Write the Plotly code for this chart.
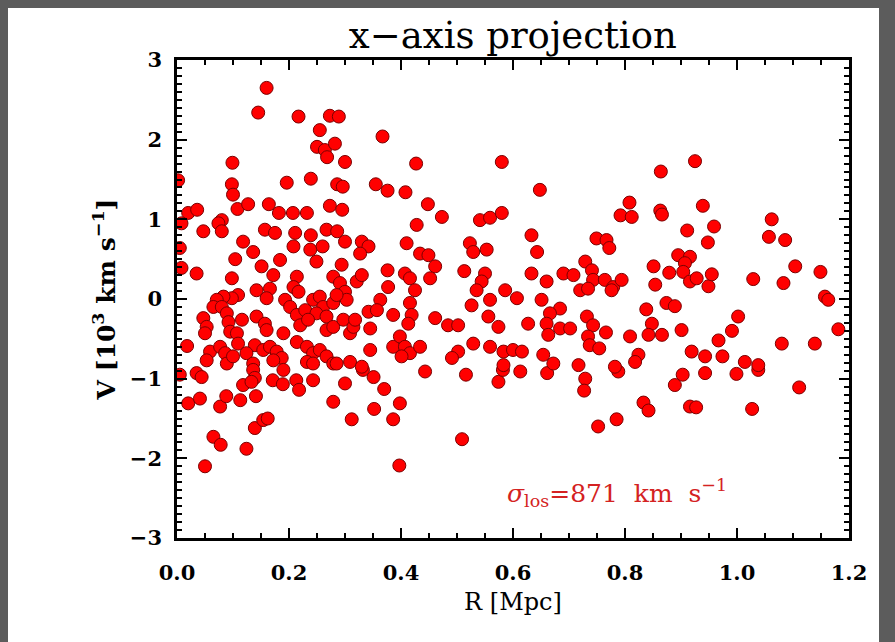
import plotly.graph_objects as go

R = [0.160,0.145,0.217,0.273,0.289,0.255,0.250,0.264,0.268,0.282,0.300,0.099,0.002,0.098,0.100,0.196,0.239,0.286,0.296,
     0.020,0.036,0.080,0.108,0.127,0.164,0.182,0.207,0.232,0.273,0.295,
     0.367,0.427,0.580,0.355,0.376,0.408,0.648,0.448,0.473,0.541,0.559,0.580,
     0.925,0.864,0.808,0.792,0.812,0.863,0.866,0.939,1.062,
     0.008,0.047,0.074,0.080,0.157,0.175,0.211,0.239,0.267,0.286,0.300,0.005,0.118,0.136,0.208,0.238,0.260,
     0.104,0.184,0.249,0.294,0.008,0.035,0.151,0.172,0.098,0.214,0.208,0.217,0.279,0.291,0.300,0.303,
     0.142,0.166,0.160,0.109,0.098,0.083,0.071,0.065,0.080,0.089,0.193,0.202,0.214,0.229,0.243,0.255,
     0.261,0.249,0.267,0.279,0.285,0.047,0.053,0.050,0.116,0.142,0.157,0.160,0.092,0.095,0.107,0.109,
     0.190,0.220,0.234,0.267,0.279,0.297,0.309,0.315,0.018,0.059,0.077,0.086,0.139,0.154,0.166,0.178,
     0.187,0.214,0.232,0.243,0.255,0.267,0.279,0.053,0.089,0.100,0.124,0.136,0.172,0.190,0.232,0.243,
     0.285,0.309,0.035,0.005,0.136,0.139,
     0.044,0.020,0.041,0.077,0.088,0.065,0.078,0.050,0.118,0.133,0.113,0.141,0.124,0.139,0.154,0.162,
     0.171,0.189,0.213,0.218,0.243,0.279,0.300,0.312,
     0.332,0.351,0.370,0.352,0.386,0.398,0.397,0.443,0.516,0.509,0.574,0.582,0.613,0.661,0.729,0.727,0.752,
     0.788,0.903,0.889,0.943,0.999,1.038,1.111,0.785,0.833,0.842,0.916,0.927,1.027,
     0.428,0.633,0.643,0.749,0.330,0.342,0.327,0.410,0.434,0.449,0.461,0.452,0.523,0.529,0.553,
     0.376,0.407,0.416,0.513,0.550,0.544,0.535,0.633,0.660,0.690,0.708,0.729,0.741,0.743,0.720,0.734,
     0.321,0.330,0.377,0.425,0.586,0.607,0.363,0.342,0.357,0.416,0.419,0.413,0.461,0.526,0.559,0.651,
     0.684,0.666,0.318,0.345,0.386,0.484,0.502,0.556,0.574,0.627,0.660,0.663,0.684,0.702,0.732,0.743,
     0.734,0.737,0.345,0.386,0.398,0.407,0.416,0.401,0.434,0.529,0.502,0.491,0.559,0.583,0.600,0.616,
     0.654,0.672,0.717,0.330,0.583,
     0.767,0.772,0.911,0.959,0.948,1.057,1.086,0.895,0.916,0.907,0.851,0.879,0.904,0.916,0.928,0.949,
     0.955,0.854,0.764,0.779,0.794,0.776,1.029,1.104,1.083,1.149,1.157,1.163,0.838,0.874,0.889,0.848,
     0.842,0.866,0.766,0.809,0.901,1.002,0.991,0.967,1.181,1.080,1.139,0.754,0.824,0.818,0.919,0.943,
     0.974,1.014,1.038,0.782]

V = [2.65,2.34,2.29,2.30,2.29,2.12,1.91,1.87,1.78,1.95,1.72,1.71,1.49,1.44,1.31,1.46,1.51,1.44,1.41,
     1.08,1.12,0.99,1.13,1.19,1.19,1.08,1.08,1.08,1.17,1.12,
     2.04,1.70,1.72,1.44,1.36,1.34,1.37,1.19,1.03,0.99,1.02,1.08,
     1.73,1.60,1.21,1.05,1.03,1.11,1.06,1.17,1.00,
     0.95,0.85,0.95,0.85,0.87,0.83,0.83,0.80,0.87,0.85,0.72,0.64,0.72,0.59,0.66,0.62,0.66,
     0.50,0.49,0.47,0.43,0.39,0.32,0.41,0.30,0.26,0.28,0.15,0.09,0.28,0.20,0.09,-0.01,
     0.11,0.13,0.01,0.05,0.01,0.03,-0.01,-0.10,-0.10,-0.18,-0.01,-0.10,-0.20,-0.14,-0.01,0.03,
     -0.10,-0.18,-0.22,-0.05,0.05,-0.24,-0.35,-0.43,-0.26,-0.22,-0.31,-0.39,-0.29,-0.41,-0.43,-0.56,
     -0.43,-0.33,-0.26,-0.39,-0.35,-0.26,-0.43,-0.35,-0.59,-0.66,-0.60,-0.68,-0.58,-0.64,-0.60,-0.66,
     -0.74,-0.54,-0.60,-0.68,-0.64,-0.72,-0.81,-0.77,-0.81,-0.72,-0.68,-0.81,-0.77,-0.89,-0.79,-0.81,
     -0.81,-0.79,-0.93,-0.95,-0.89,-0.99,
     -0.98,-1.31,-1.25,-1.35,-1.22,-1.73,-1.83,-2.10,-1.08,-1.04,-1.27,-1.22,-1.88,-1.62,-1.52,-1.50,
     -1.02,-1.07,-1.02,-1.14,-1.02,-1.29,-1.06,-1.51,
     -0.89,-0.98,-1.13,-1.38,-1.51,-1.31,-2.09,-0.91,-0.95,-1.76,-1.04,-0.89,-0.91,-0.93,-1.00,-1.15,-1.60,
     -0.91,-0.95,-1.08,-0.93,-0.94,-0.89,-1.11,-1.51,-1.30,-1.40,-1.35,-1.36,-1.38,
     0.93,0.80,0.59,0.76,0.72,0.66,0.57,0.70,0.57,0.55,0.41,0.26,0.70,0.59,0.62,
     0.36,0.32,0.26,0.35,0.32,0.22,0.11,0.32,0.22,0.32,0.30,0.47,0.36,0.24,0.11,0.13,
     0.22,0.30,0.15,0.11,0.11,0.01,-0.01,-0.16,-0.14,-0.05,-0.20,-0.31,-0.24,-0.08,-0.01,-0.01,
     -0.12,-0.18,-0.26,-0.37,-0.20,-0.33,-0.33,-0.22,-0.35,-0.31,-0.31,-0.45,-0.37,-0.37,-0.22,-0.33,
     -0.47,-0.58,-0.64,-0.60,-0.47,-0.60,-0.68,-0.72,-0.60,-0.56,-0.66,-0.74,-0.60,-0.66,-0.64,-0.66,
     -0.70,-0.81,-0.83,-0.85,-0.83,
     0.74,0.64,0.86,0.91,0.71,0.78,0.74,0.55,0.53,0.45,0.41,0.33,0.34,0.22,0.26,0.16,
     0.31,0.18,0.24,0.15,0.24,0.11,0.25,0.41,0.20,0.34,0.03,-0.01,-0.13,-0.05,-0.09,-0.31,
     -0.45,-0.45,-0.42,-0.47,-0.39,-0.22,-0.40,-0.52,-0.38,-0.56,-0.56,-0.62,-0.70,-0.79,-0.66,-0.72,
     -0.72,-0.79,-0.83,-0.85]

TITLE = "x\u2212axis projection"
XTITLE = "R [Mpc]"
YTITLE = "V [10<sup>3</sup> km s<sup>\u22121</sup>]"
SIGMA_TEXT = "<i>\u03c3</i><sub>los</sub>=871&nbsp; km&nbsp; s<sup>\u22121</sup>"
X_TICKS = [0.0, 0.2, 0.4, 0.6, 0.8, 1.0, 1.2]
Y_TICKS = [-3, -2, -1, 0, 1, 2, 3]

FONT = "DejaVu Serif"

fig = go.Figure()
fig.add_trace(go.Scatter(
    x=R, y=V, mode="markers",
    marker=dict(size=13, color="#ff0000", line=dict(color="#7a0000", width=1)),
    showlegend=False, hoverinfo="skip"))

axis_common = dict(
    showgrid=False, zeroline=False, showline=True, linecolor="black", linewidth=2.5,
    ticks="inside", ticklen=10, tickwidth=2, tickcolor="black", mirror="allticks",
    tickfont=dict(family=FONT, size=21, color="black", weight="bold"),
)

fig.update_xaxes(range=[0, 1.2], tickvals=X_TICKS, ticktext=[f"{v:.1f}" for v in X_TICKS],
                 ticklabelstandoff=14,
                 minor=dict(dtick=0.05, ticklen=5, tickwidth=2, tickcolor="black", ticks="inside"),
                 title=dict(text=XTITLE, font=dict(family=FONT, size=24, color="black"), standoff=10),
                 **axis_common)
fig.update_yaxes(range=[-3, 3], tickvals=Y_TICKS, ticktext=[("\u2212" if v < 0 else "") + str(abs(v)) for v in Y_TICKS],
                 ticklabelstandoff=8,
                 minor=dict(dtick=0.1, ticklen=5, tickwidth=2, tickcolor="black", ticks="inside"),
                 title=dict(text=YTITLE, font=dict(family=FONT, size=25, color="black", weight="bold"), standoff=8),
                 **axis_common)

fig.add_annotation(x=0.586, y=-2.43, xref="x", yref="y", text=SIGMA_TEXT, showarrow=False,
                   xanchor="left", yanchor="middle",
                   font=dict(family=FONT, size=25, color="#d42222"))

PW, PH = 672, 478
fig.add_shape(type="rect", xref="paper", yref="paper", layer="below",
              x0=(8 - 177) / PW, x1=(879 - 177) / PW, y0=-110 / PH, y1=(538 - 8) / PH,
              fillcolor="white", line=dict(width=0))

fig.update_layout(
    width=895, height=642,
    margin=dict(l=177, r=46, t=60, b=104),
    paper_bgcolor="#5c5c5c", plot_bgcolor="white",
    title=dict(text=TITLE, x=0.573, xanchor="center", y=0.945, yanchor="middle",
               font=dict(family=FONT, size=37, color="black")),
)

fig.write_html("out.html")
